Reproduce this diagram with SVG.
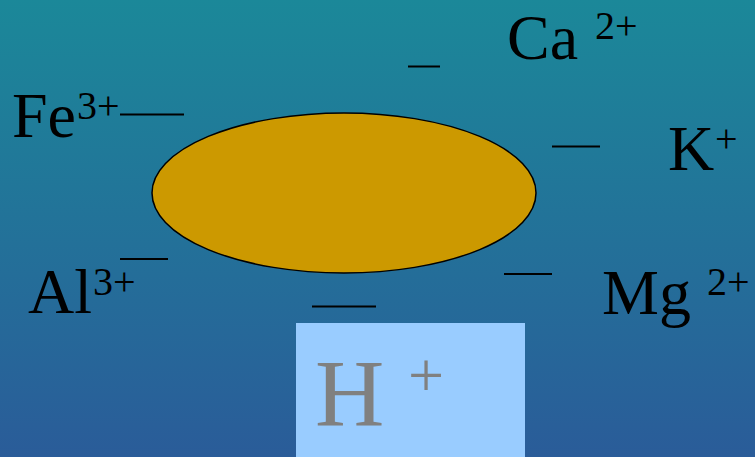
<svg xmlns="http://www.w3.org/2000/svg" width="755" height="457" viewBox="0 0 755 457">
<defs>
<linearGradient id="bg" x1="0" y1="0" x2="0" y2="1">
<stop offset="0" stop-color="#1b8899"/>
<stop offset="1" stop-color="#2a5c99"/>
</linearGradient>
<style>
.ion{font-family:"Liberation Serif","Times New Roman",serif;font-size:64px;fill:#000}
.sup{font-size:40px}
.dash{stroke:#000;stroke-width:2}
</style>
</defs>
<rect x="0" y="0" width="755" height="457" fill="url(#bg)"/>
<g id="particle">
<ellipse cx="344" cy="193" rx="192" ry="80" fill="#cc9900" stroke="#000" stroke-width="1.5"/>
</g>
<g id="connectors">
<line class="dash" x1="120" y1="114.5" x2="184" y2="114.5"/>
<line class="dash" x1="408" y1="66.5" x2="440" y2="66.5"/>
<line class="dash" x1="552" y1="146.5" x2="600" y2="146.5"/>
<line class="dash" x1="120" y1="259" x2="168" y2="259"/>
<line class="dash" x1="504" y1="274" x2="552" y2="274"/>
<line class="dash" x1="312" y1="306.5" x2="376" y2="306.5"/>
</g>
<g id="fe"><text class="ion" x="12" y="137">Fe</text><text class="ion sup" x="77" y="119">3+</text></g>
<g id="ca"><text class="ion" x="507" y="59">Ca</text><text class="ion sup" x="595" y="39">2+</text></g>
<g id="k"><text class="ion" x="668" y="170">K</text><text class="ion sup" x="715" y="152">+</text></g>
<g id="al"><text class="ion" x="28" y="313">Al</text><text class="ion sup" x="93" y="295">3+</text></g>
<g id="mg"><text class="ion" x="602" y="314">Mg</text><text class="ion sup" x="707" y="295">2+</text></g>
<g id="h">
<rect x="296" y="323" width="229" height="134" fill="#99ccff"/>
<text x="315" y="426" font-family="Liberation Serif,serif" font-size="96" fill="#808080">H</text>
<text x="408" y="397" font-family="Liberation Serif,serif" font-size="64" fill="#808080">+</text>
</g>
</svg>
